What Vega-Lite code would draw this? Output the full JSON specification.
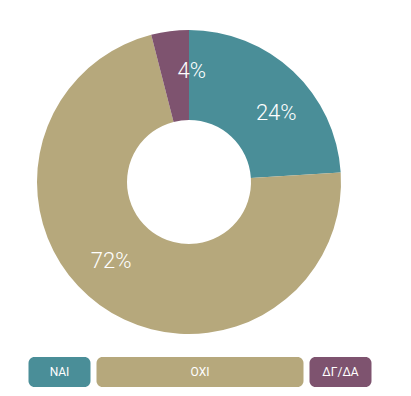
{
  "$schema": "https://vega.github.io/schema/vega-lite/v6.json",
  "padding": {"left": 17, "top": 17, "right": 0, "bottom": 0},
  "background": "white",
  "config": {"view": {"stroke": null}, "font": "Roboto"},
  "bounds": "flush",
  "spacing": 10,
  "data": {"values": [
    {"answer": "ΝΑΙ", "pct": 0.24},
    {"answer": "ΟΧΙ", "pct": 0.72},
    {"answer": "ΔΓ/ΔΑ", "pct": 0.04}
  ]},
  "vconcat": [
    {
      "width": 344,
      "height": 330,
      "encoding": {
        "theta": {"field": "pct", "type": "quantitative", "stack": true, "scale": {"range": [-0.2513, 6.0319]}},
        "detail": {"field": "answer", "type": "nominal"}
      },
      "layer": [
        {
          "mark": {"type": "arc", "innerRadius": 62, "outerRadius": 152},
          "encoding": {
            "color": {"field": "answer", "type": "nominal", "scale": {"domain": ["ΝΑΙ", "ΟΧΙ", "ΔΓ/ΔΑ"], "range": ["#4a8e98", "#b6a87c", "#7e536f"]}, "legend": null}
          }
        },
        {
          "mark": {"type": "text", "radius": 111, "thetaOffset": 0.15, "fill": "white", "fontSize": 22, "fontWeight": 300},
          "encoding": {"text": {"field": "pct", "type": "quantitative", "format": ".0%"}}
        }
      ]
    },
    {
      "width": 366,
      "height": 30,
      "encoding": {
        "x": {"field": "answer", "type": "nominal", "sort": ["ΝΑΙ", "ΟΧΙ", "ΔΓ/ΔΑ"], "scale": {"type": "point", "padding": 0.3025}, "axis": null}
      },
      "layer": [
        {
          "mark": {"type": "bar", "cornerRadius": 6, "orient": "vertical"},
          "encoding": {
            "color": {"field": "answer", "type": "nominal", "legend": null},
            "size": {"field": "pct", "type": "quantitative", "scale": {"type": "threshold", "domain": [0.5], "range": [62, 207]}, "legend": null}
          }
        },
        {
          "mark": {"type": "text", "fill": "white", "fontSize": 12},
          "encoding": {"text": {"field": "answer", "type": "nominal"}}
        }
      ]
    }
  ]
}
